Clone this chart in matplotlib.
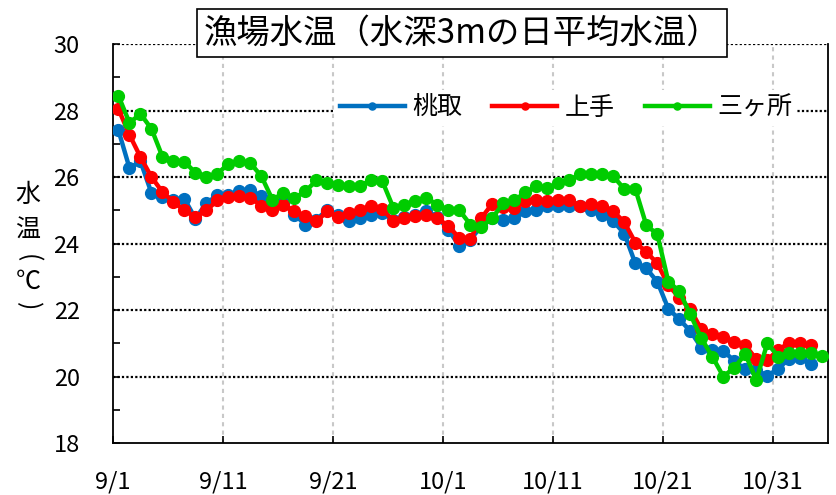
import matplotlib
matplotlib.use("Agg")
import matplotlib.pyplot as plt
import numpy as np

plt.rcParams["font.family"] = ["Noto Sans CJK JP", "DejaVu Sans"]

# daily mean water temperature at 3 m depth, 9/1 .. 11/4
momotori = [
    27.40, 26.27, 26.47, 25.52, 25.40, 25.30, 25.34, 24.75, 25.22, 25.45,
    25.47, 25.57, 25.60, 25.42, 25.07, 25.24, 24.87, 24.57, 24.72, 25.02,
    24.85, 24.67, 24.77, 24.87, 24.92, 24.72, 24.80, 24.87, 24.97, 24.80,
    24.42, 23.92, 24.12, 24.52, 24.77, 24.70, 24.77, 24.97, 25.02, 25.12,
    25.12, 25.12, 25.14, 25.02, 24.87, 24.67, 24.30, 23.40, 23.25, 22.85,
    22.04, 21.72, 21.37, 20.87, 20.80, 20.77, 20.47, 20.22, 20.20, 20.02,
    20.24, 20.54, 20.57, 20.37,
]
kamite = [
    28.04, 27.27, 26.60, 26.00, 25.55, 25.25, 25.00, 24.80, 25.00, 25.30,
    25.40, 25.42, 25.37, 25.14, 25.02, 25.17, 24.97, 24.82, 24.67, 24.97,
    24.80, 24.92, 25.02, 25.12, 25.04, 24.67, 24.77, 24.82, 24.87, 24.77,
    24.52, 24.17, 24.14, 24.77, 25.20, 25.10, 25.07, 25.27, 25.32, 25.27,
    25.30, 25.32, 25.12, 25.20, 25.14, 24.97, 24.64, 24.03, 23.75, 23.40,
    22.75, 22.37, 22.02, 21.42, 21.27, 21.20, 21.04, 20.94, 20.52, 20.50,
    20.80, 21.02, 21.00, 20.94,
]
sankasho = [
    28.44, 27.63, 27.90, 27.45, 26.61, 26.49, 26.46, 26.13, 26.01, 26.10,
    26.40, 26.47, 26.42, 26.02, 25.32, 25.52, 25.37, 25.57, 25.90, 25.82,
    25.77, 25.72, 25.74, 25.92, 25.87, 25.07, 25.17, 25.27, 25.37, 25.17,
    25.00, 25.00, 24.57, 24.50, 24.77, 25.22, 25.30, 25.54, 25.72, 25.67,
    25.82, 25.90, 26.10, 26.10, 26.10, 26.02, 25.64, 25.64, 24.55, 24.28,
    22.85, 22.57, 21.87, 21.15, 20.60, 20.00, 20.27, 20.67, 19.90, 21.00,
    20.60, 20.72, 20.72, 20.72, 20.62,
]
series = [("桃取", momotori, "#0070C0"), ("上手", kamite, "#FF0000"), ("三ヶ所", sankasho, "#00CC00")]

tick_days = [0, 10, 20, 30, 40, 50, 60]
tick_labels = ["9/1", "9/11", "9/21", "10/1", "10/11", "10/21", "10/31"]
n_days = 65

fig = plt.figure(figsize=(8.37, 4.95), dpi=100)
ax = fig.add_axes([0.135, 0.105, 0.854, 0.806])

for name, vals, col in series:
    x = np.arange(len(vals)) + 0.5
    ax.plot(x, vals, color=col, lw=3.2, marker="o", ms=8.5, label=name, zorder=3)

ax.set_xlim(0, n_days)
ax.set_ylim(18, 30)

for yv in range(20, 31, 2):
    ax.axhline(yv, color="black", lw=1.6, ls=(0, (1, 1)), zorder=1)
for xv in tick_days[1:]:
    ax.axvline(xv, color="#c8c8c8", lw=1.5, ls=(0, (2, 2)), zorder=1)

ax.set_xticks(tick_days)
ax.set_xticklabels(tick_labels)
ax.set_yticks(range(18, 31, 2))
ax.set_yticks(range(19, 30, 2), minor=True)
ax.tick_params(axis="both", which="both", direction="in", length=5, width=1.2, labelsize=17)
ax.tick_params(axis="y", pad=24)
ax.tick_params(axis="x", pad=20)
ax.spines["top"].set_visible(False)
for s in ["left", "bottom", "right"]:
    ax.spines[s].set_linewidth(1.3)

leg = ax.legend(loc="center", bbox_to_anchor=(0.634, 0.84), ncol=3, fontsize=18,
                frameon=True, handlelength=2.6, handletextpad=0.3, columnspacing=1.2,
                markerscale=0.6, borderpad=0.2)
leg.get_frame().set_edgecolor("none")
leg.get_frame().set_facecolor("white")
leg.get_frame().set_alpha(1.0)

# vertical y label, parentheses turned for vertical writing
fig.text(28 / 837, 1 - 195 / 495, "水", fontsize=18, ha="center", va="center")
fig.text(28 / 837, 1 - 231 / 495, "温", fontsize=18, ha="center", va="center")
fig.text(28 / 837, 1 - 258 / 495, "(", fontsize=18, ha="center", va="center", rotation=-90)
fig.text(28 / 837, 1 - 282 / 495, "℃", fontsize=18, ha="center", va="center")
fig.text(28 / 837, 1 - 306 / 495, ")", fontsize=18, ha="center", va="center", rotation=-90)

fig.text(462 / 837, 1 - 33 / 495, "漁場水温（水深3mの日平均水温）", fontsize=24,
         ha="center", va="center",
         bbox=dict(boxstyle="square,pad=0.2", facecolor="white", edgecolor="black", lw=1.2))

fig.savefig("out.png", dpi=100)
